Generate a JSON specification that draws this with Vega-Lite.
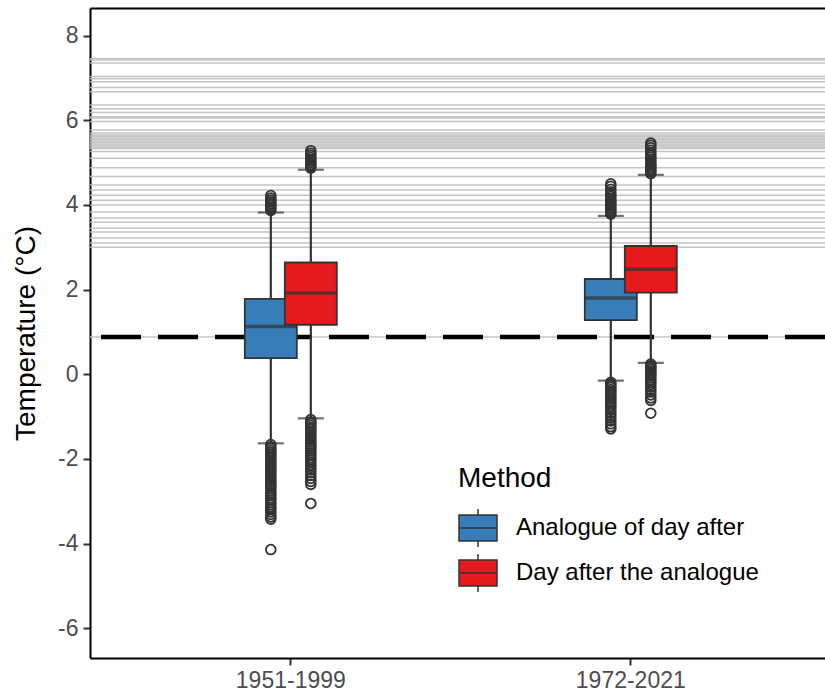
{
  "$schema": "https://vega.github.io/schema/vega-lite/v6.json",
  "width": 735,
  "height": 650,
  "autosize": {"type": "none"},
  "padding": {"left": 90, "top": 8, "right": 0, "bottom": 37},
  "config": {
    "view": {"stroke": null},
    "font": "Liberation Sans"
  },
  "datasets": {
    "stats": [
      {"period": "1951-1999", "method": "Analogue of day after", "lower": -1.63, "q1": 0.38, "median": 1.13, "q3": 1.78, "upper": 3.82},
      {"period": "1951-1999", "method": "Day after the analogue", "lower": -1.04, "q1": 1.17, "median": 1.92, "q3": 2.64, "upper": 4.83},
      {"period": "1972-2021", "method": "Analogue of day after", "lower": -0.15, "q1": 1.28, "median": 1.80, "q3": 2.25, "upper": 3.74},
      {"period": "1972-2021", "method": "Day after the analogue", "lower": 0.27, "q1": 1.93, "median": 2.48, "q3": 3.03, "upper": 4.71}
    ],
    "outliers": [
      {"period": "1951-1999", "method": "Analogue of day after", "value": 3.87},
      {"period": "1951-1999", "method": "Analogue of day after", "value": 3.91},
      {"period": "1951-1999", "method": "Analogue of day after", "value": 3.95},
      {"period": "1951-1999", "method": "Analogue of day after", "value": 3.99},
      {"period": "1951-1999", "method": "Analogue of day after", "value": 4.03},
      {"period": "1951-1999", "method": "Analogue of day after", "value": 4.07},
      {"period": "1951-1999", "method": "Analogue of day after", "value": 4.11},
      {"period": "1951-1999", "method": "Analogue of day after", "value": 4.16},
      {"period": "1951-1999", "method": "Analogue of day after", "value": 4.22},
      {"period": "1951-1999", "method": "Analogue of day after", "value": -1.66},
      {"period": "1951-1999", "method": "Analogue of day after", "value": -1.71},
      {"period": "1951-1999", "method": "Analogue of day after", "value": -1.75},
      {"period": "1951-1999", "method": "Analogue of day after", "value": -1.80},
      {"period": "1951-1999", "method": "Analogue of day after", "value": -1.84},
      {"period": "1951-1999", "method": "Analogue of day after", "value": -1.89},
      {"period": "1951-1999", "method": "Analogue of day after", "value": -1.93},
      {"period": "1951-1999", "method": "Analogue of day after", "value": -1.98},
      {"period": "1951-1999", "method": "Analogue of day after", "value": -2.03},
      {"period": "1951-1999", "method": "Analogue of day after", "value": -2.07},
      {"period": "1951-1999", "method": "Analogue of day after", "value": -2.12},
      {"period": "1951-1999", "method": "Analogue of day after", "value": -2.17},
      {"period": "1951-1999", "method": "Analogue of day after", "value": -2.21},
      {"period": "1951-1999", "method": "Analogue of day after", "value": -2.26},
      {"period": "1951-1999", "method": "Analogue of day after", "value": -2.31},
      {"period": "1951-1999", "method": "Analogue of day after", "value": -2.35},
      {"period": "1951-1999", "method": "Analogue of day after", "value": -2.40},
      {"period": "1951-1999", "method": "Analogue of day after", "value": -2.45},
      {"period": "1951-1999", "method": "Analogue of day after", "value": -2.50},
      {"period": "1951-1999", "method": "Analogue of day after", "value": -2.55},
      {"period": "1951-1999", "method": "Analogue of day after", "value": -2.60},
      {"period": "1951-1999", "method": "Analogue of day after", "value": -2.65},
      {"period": "1951-1999", "method": "Analogue of day after", "value": -2.70},
      {"period": "1951-1999", "method": "Analogue of day after", "value": -2.76},
      {"period": "1951-1999", "method": "Analogue of day after", "value": -2.81},
      {"period": "1951-1999", "method": "Analogue of day after", "value": -2.86},
      {"period": "1951-1999", "method": "Analogue of day after", "value": -2.92},
      {"period": "1951-1999", "method": "Analogue of day after", "value": -2.97},
      {"period": "1951-1999", "method": "Analogue of day after", "value": -3.03},
      {"period": "1951-1999", "method": "Analogue of day after", "value": -3.08},
      {"period": "1951-1999", "method": "Analogue of day after", "value": -3.14},
      {"period": "1951-1999", "method": "Analogue of day after", "value": -3.19},
      {"period": "1951-1999", "method": "Analogue of day after", "value": -3.25},
      {"period": "1951-1999", "method": "Analogue of day after", "value": -3.31},
      {"period": "1951-1999", "method": "Analogue of day after", "value": -3.37},
      {"period": "1951-1999", "method": "Analogue of day after", "value": -3.42},
      {"period": "1951-1999", "method": "Analogue of day after", "value": -4.14},
      {"period": "1951-1999", "method": "Day after the analogue", "value": 4.87},
      {"period": "1951-1999", "method": "Day after the analogue", "value": 4.91},
      {"period": "1951-1999", "method": "Day after the analogue", "value": 4.95},
      {"period": "1951-1999", "method": "Day after the analogue", "value": 4.99},
      {"period": "1951-1999", "method": "Day after the analogue", "value": 5.03},
      {"period": "1951-1999", "method": "Day after the analogue", "value": 5.07},
      {"period": "1951-1999", "method": "Day after the analogue", "value": 5.12},
      {"period": "1951-1999", "method": "Day after the analogue", "value": 5.17},
      {"period": "1951-1999", "method": "Day after the analogue", "value": 5.22},
      {"period": "1951-1999", "method": "Day after the analogue", "value": 5.28},
      {"period": "1951-1999", "method": "Day after the analogue", "value": -1.07},
      {"period": "1951-1999", "method": "Day after the analogue", "value": -1.12},
      {"period": "1951-1999", "method": "Day after the analogue", "value": -1.16},
      {"period": "1951-1999", "method": "Day after the analogue", "value": -1.21},
      {"period": "1951-1999", "method": "Day after the analogue", "value": -1.26},
      {"period": "1951-1999", "method": "Day after the analogue", "value": -1.30},
      {"period": "1951-1999", "method": "Day after the analogue", "value": -1.35},
      {"period": "1951-1999", "method": "Day after the analogue", "value": -1.40},
      {"period": "1951-1999", "method": "Day after the analogue", "value": -1.45},
      {"period": "1951-1999", "method": "Day after the analogue", "value": -1.50},
      {"period": "1951-1999", "method": "Day after the analogue", "value": -1.55},
      {"period": "1951-1999", "method": "Day after the analogue", "value": -1.60},
      {"period": "1951-1999", "method": "Day after the analogue", "value": -1.65},
      {"period": "1951-1999", "method": "Day after the analogue", "value": -1.70},
      {"period": "1951-1999", "method": "Day after the analogue", "value": -1.75},
      {"period": "1951-1999", "method": "Day after the analogue", "value": -1.81},
      {"period": "1951-1999", "method": "Day after the analogue", "value": -1.86},
      {"period": "1951-1999", "method": "Day after the analogue", "value": -1.91},
      {"period": "1951-1999", "method": "Day after the analogue", "value": -1.97},
      {"period": "1951-1999", "method": "Day after the analogue", "value": -2.02},
      {"period": "1951-1999", "method": "Day after the analogue", "value": -2.08},
      {"period": "1951-1999", "method": "Day after the analogue", "value": -2.14},
      {"period": "1951-1999", "method": "Day after the analogue", "value": -2.20},
      {"period": "1951-1999", "method": "Day after the analogue", "value": -2.26},
      {"period": "1951-1999", "method": "Day after the analogue", "value": -2.32},
      {"period": "1951-1999", "method": "Day after the analogue", "value": -2.39},
      {"period": "1951-1999", "method": "Day after the analogue", "value": -2.46},
      {"period": "1951-1999", "method": "Day after the analogue", "value": -2.53},
      {"period": "1951-1999", "method": "Day after the analogue", "value": -2.60},
      {"period": "1951-1999", "method": "Day after the analogue", "value": -3.05},
      {"period": "1972-2021", "method": "Analogue of day after", "value": 3.78},
      {"period": "1972-2021", "method": "Analogue of day after", "value": 3.82},
      {"period": "1972-2021", "method": "Analogue of day after", "value": 3.86},
      {"period": "1972-2021", "method": "Analogue of day after", "value": 3.90},
      {"period": "1972-2021", "method": "Analogue of day after", "value": 3.94},
      {"period": "1972-2021", "method": "Analogue of day after", "value": 3.98},
      {"period": "1972-2021", "method": "Analogue of day after", "value": 4.02},
      {"period": "1972-2021", "method": "Analogue of day after", "value": 4.06},
      {"period": "1972-2021", "method": "Analogue of day after", "value": 4.10},
      {"period": "1972-2021", "method": "Analogue of day after", "value": 4.15},
      {"period": "1972-2021", "method": "Analogue of day after", "value": 4.20},
      {"period": "1972-2021", "method": "Analogue of day after", "value": 4.25},
      {"period": "1972-2021", "method": "Analogue of day after", "value": 4.31},
      {"period": "1972-2021", "method": "Analogue of day after", "value": 4.37},
      {"period": "1972-2021", "method": "Analogue of day after", "value": 4.44},
      {"period": "1972-2021", "method": "Analogue of day after", "value": 4.50},
      {"period": "1972-2021", "method": "Analogue of day after", "value": -0.19},
      {"period": "1972-2021", "method": "Analogue of day after", "value": -0.23},
      {"period": "1972-2021", "method": "Analogue of day after", "value": -0.27},
      {"period": "1972-2021", "method": "Analogue of day after", "value": -0.31},
      {"period": "1972-2021", "method": "Analogue of day after", "value": -0.36},
      {"period": "1972-2021", "method": "Analogue of day after", "value": -0.40},
      {"period": "1972-2021", "method": "Analogue of day after", "value": -0.45},
      {"period": "1972-2021", "method": "Analogue of day after", "value": -0.49},
      {"period": "1972-2021", "method": "Analogue of day after", "value": -0.54},
      {"period": "1972-2021", "method": "Analogue of day after", "value": -0.59},
      {"period": "1972-2021", "method": "Analogue of day after", "value": -0.64},
      {"period": "1972-2021", "method": "Analogue of day after", "value": -0.69},
      {"period": "1972-2021", "method": "Analogue of day after", "value": -0.74},
      {"period": "1972-2021", "method": "Analogue of day after", "value": -0.79},
      {"period": "1972-2021", "method": "Analogue of day after", "value": -0.85},
      {"period": "1972-2021", "method": "Analogue of day after", "value": -0.91},
      {"period": "1972-2021", "method": "Analogue of day after", "value": -0.97},
      {"period": "1972-2021", "method": "Analogue of day after", "value": -1.03},
      {"period": "1972-2021", "method": "Analogue of day after", "value": -1.10},
      {"period": "1972-2021", "method": "Analogue of day after", "value": -1.17},
      {"period": "1972-2021", "method": "Analogue of day after", "value": -1.24},
      {"period": "1972-2021", "method": "Analogue of day after", "value": -1.29},
      {"period": "1972-2021", "method": "Day after the analogue", "value": 4.74},
      {"period": "1972-2021", "method": "Day after the analogue", "value": 4.78},
      {"period": "1972-2021", "method": "Day after the analogue", "value": 4.82},
      {"period": "1972-2021", "method": "Day after the analogue", "value": 4.86},
      {"period": "1972-2021", "method": "Day after the analogue", "value": 4.90},
      {"period": "1972-2021", "method": "Day after the analogue", "value": 4.94},
      {"period": "1972-2021", "method": "Day after the analogue", "value": 4.98},
      {"period": "1972-2021", "method": "Day after the analogue", "value": 5.03},
      {"period": "1972-2021", "method": "Day after the analogue", "value": 5.08},
      {"period": "1972-2021", "method": "Day after the analogue", "value": 5.13},
      {"period": "1972-2021", "method": "Day after the analogue", "value": 5.18},
      {"period": "1972-2021", "method": "Day after the analogue", "value": 5.23},
      {"period": "1972-2021", "method": "Day after the analogue", "value": 5.29},
      {"period": "1972-2021", "method": "Day after the analogue", "value": 5.35},
      {"period": "1972-2021", "method": "Day after the analogue", "value": 5.41},
      {"period": "1972-2021", "method": "Day after the analogue", "value": 5.46},
      {"period": "1972-2021", "method": "Day after the analogue", "value": 0.24},
      {"period": "1972-2021", "method": "Day after the analogue", "value": 0.20},
      {"period": "1972-2021", "method": "Day after the analogue", "value": 0.16},
      {"period": "1972-2021", "method": "Day after the analogue", "value": 0.12},
      {"period": "1972-2021", "method": "Day after the analogue", "value": 0.08},
      {"period": "1972-2021", "method": "Day after the analogue", "value": 0.04},
      {"period": "1972-2021", "method": "Day after the analogue", "value": 0.00},
      {"period": "1972-2021", "method": "Day after the analogue", "value": -0.04},
      {"period": "1972-2021", "method": "Day after the analogue", "value": -0.09},
      {"period": "1972-2021", "method": "Day after the analogue", "value": -0.14},
      {"period": "1972-2021", "method": "Day after the analogue", "value": -0.19},
      {"period": "1972-2021", "method": "Day after the analogue", "value": -0.24},
      {"period": "1972-2021", "method": "Day after the analogue", "value": -0.30},
      {"period": "1972-2021", "method": "Day after the analogue", "value": -0.36},
      {"period": "1972-2021", "method": "Day after the analogue", "value": -0.42},
      {"period": "1972-2021", "method": "Day after the analogue", "value": -0.49},
      {"period": "1972-2021", "method": "Day after the analogue", "value": -0.56},
      {"period": "1972-2021", "method": "Day after the analogue", "value": -0.62},
      {"period": "1972-2021", "method": "Day after the analogue", "value": -0.92}
    ],
    "hlines": [
      {"value": 7.45}, {"value": 7.42}, {"value": 7.35}, {"value": 7.03}, {"value": 6.98},
      {"value": 6.91}, {"value": 6.77}, {"value": 6.67}, {"value": 6.36}, {"value": 6.27},
      {"value": 6.18}, {"value": 6.08}, {"value": 6.05}, {"value": 5.97}, {"value": 5.77},
      {"value": 5.70}, {"value": 5.65}, {"value": 5.62}, {"value": 5.58}, {"value": 5.55},
      {"value": 5.51}, {"value": 5.48}, {"value": 5.44}, {"value": 5.40}, {"value": 5.37},
      {"value": 5.33}, {"value": 5.26}, {"value": 5.10}, {"value": 4.88}, {"value": 4.67},
      {"value": 4.47}, {"value": 4.35}, {"value": 4.23}, {"value": 4.11}, {"value": 4.00},
      {"value": 3.83}, {"value": 3.69}, {"value": 3.59}, {"value": 3.45}, {"value": 3.36},
      {"value": 3.22}, {"value": 3.10}, {"value": 3.00}, {"value": 0.88}
    ],
    "ref": [{"value": 0.88}]
  },
  "layer": [
    {
      "data": {"name": "hlines"},
      "mark": {"type": "rule", "color": "#BEBEBE", "strokeWidth": 1.5, "opacity": 0.9},
      "encoding": {
        "y": {
          "field": "value", "type": "quantitative",
          "scale": {"domain": [-6.7, 8.65], "nice": false, "zero": false},
          "axis": {
            "values": [-6, -4, -2, 0, 2, 4, 6, 8],
            "labelExpr": "replace(datum.label, '−', '-')",
            "grid": false,
            "labelFontSize": 23, "labelColor": "#4D4D4D", "labelPadding": 5,
            "tickSize": 7, "tickColor": "#333333", "tickWidth": 2,
            "domainColor": "black", "domainWidth": 2,
            "titleFontSize": 28, "titleFontWeight": "normal", "titleColor": "black", "titlePadding": 17
          },
          "title": "Temperature (°C)"
        }
      }
    },
    {
      "data": {"name": "ref"},
      "mark": {"type": "rule", "color": "black", "strokeWidth": 4.5, "strokeDash": [40, 17]},
      "encoding": {
        "y": {"field": "value", "type": "quantitative", "title": "Temperature (°C)"}
      }
    },
    {
      "data": {"name": "stats"},
      "mark": {"type": "rule", "color": "#333333", "strokeWidth": 2.2},
      "encoding": {
        "x": {
          "field": "period", "type": "nominal",
          "scale": {"type": "band", "paddingInner": 0, "paddingOuter": 0.0809, "align": 0.56},
          "axis": {"orient": "top", "labels": false, "ticks": false, "title": null, "domainColor": "black", "domainWidth": 2}
        },
        "xOffset": {
          "field": "method", "type": "nominal",
          "scale": {"type": "band", "paddingInner": 0, "paddingOuter": 0, "range": [130, 210], "domain": ["Analogue of day after", "Day after the analogue"]}
        },
        "y": {"field": "lower", "type": "quantitative", "title": "Temperature (°C)"},
        "y2": {"field": "upper"}
      }
    },
    {
      "data": {"name": "stats"},
      "mark": {"type": "tick", "color": "#333333", "size": 26, "thickness": 2.2},
      "encoding": {
        "x": {"field": "period", "type": "nominal", "axis": null},
        "xOffset": {"field": "method", "type": "nominal"},
        "y": {"field": "lower", "type": "quantitative", "title": "Temperature (°C)"}
      }
    },
    {
      "data": {"name": "stats"},
      "mark": {"type": "tick", "color": "#333333", "size": 26, "thickness": 2.2},
      "encoding": {
        "x": {"field": "period", "type": "nominal", "axis": null},
        "xOffset": {"field": "method", "type": "nominal"},
        "y": {"field": "upper", "type": "quantitative", "title": "Temperature (°C)"}
      }
    },
    {
      "data": {"name": "stats"},
      "mark": {"type": "bar", "width": 52, "stroke": "#333333", "strokeWidth": 1.8, "opacity": 1},
      "encoding": {
        "x": {
          "field": "period", "type": "nominal",
          "axis": {
            "orient": "bottom", "title": null, "labelAngle": 0,
            "labelFontSize": 23, "labelColor": "#4D4D4D", "labelPadding": 4,
            "tickSize": 7, "tickColor": "#333333", "tickWidth": 2,
            "domainColor": "black", "domainWidth": 2
          }
        },
        "xOffset": {"field": "method", "type": "nominal"},
        "y": {"field": "q1", "type": "quantitative", "title": "Temperature (°C)"},
        "y2": {"field": "q3"},
        "color": {
          "field": "method", "type": "nominal",
          "scale": {"domain": ["Analogue of day after", "Day after the analogue"], "range": ["#377EB8", "#E41A1C"]},
          "legend": {
            "orient": "none", "legendX": 368, "legendY": 457,
            "title": "Method", "titleFontSize": 28, "titleFontWeight": "normal", "titleColor": "black", "titlePadding": 15,
            "labelFontSize": 24, "labelColor": "black", "labelOffset": 18, "labelLimit": 500,
            "symbolType": "M-1,-0.68L1,-0.68L1,0.68L-1,0.68Z M-1,0L1,0 M0,-0.68L0,-1 M0,0.68L0,1",
            "symbolSize": 1444, "symbolStrokeColor": "#333333", "symbolStrokeWidth": 1.5, "symbolOpacity": 1,
            "rowPadding": 1
          }
        }
      }
    },
    {
      "data": {"name": "stats"},
      "mark": {"type": "tick", "color": "#333333", "size": 52, "thickness": 3.5},
      "encoding": {
        "x": {"field": "period", "type": "nominal", "axis": null},
        "xOffset": {"field": "method", "type": "nominal"},
        "y": {"field": "median", "type": "quantitative", "title": "Temperature (°C)"}
      }
    },
    {
      "data": {"name": "outliers"},
      "mark": {"type": "point", "shape": "circle", "filled": false, "stroke": "#333333", "strokeWidth": 1.8, "size": 95, "opacity": 1},
      "encoding": {
        "x": {"field": "period", "type": "nominal", "axis": null},
        "xOffset": {"field": "method", "type": "nominal"},
        "y": {"field": "value", "type": "quantitative", "title": "Temperature (°C)"}
      }
    }
  ],
  "resolve": {"axis": {"x": "independent"}}
}
